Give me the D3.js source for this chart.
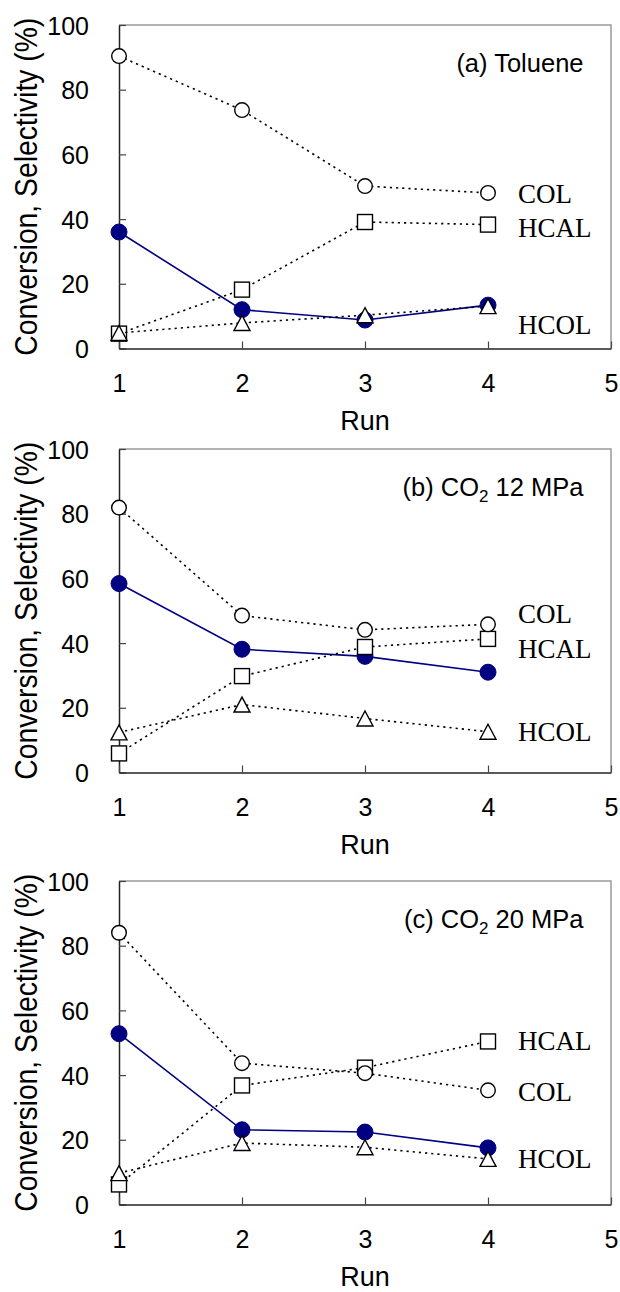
<!DOCTYPE html>
<html><head><meta charset="utf-8">
<script src="https://cdn.jsdelivr.net/npm/d3@7"></script>
<style>body{margin:0;background:#fff}</style>
</head><body>
<svg id="c" width="620" height="1292"></svg>
<script>
// ---- data ----
const runs = [1, 2, 3, 4];
const xTicks = [1, 2, 3, 4, 5];
const yTicks = [0, 20, 40, 60, 80, 100];
const xTitle = "Run";
const yTitle = "Conversion, Selectivity (%)";
const panelTitleMain = ["(a) Toluene", "(b) CO", "(c) CO"];
const panelTitleSub = ["", "2", "2"];
const panelTitleTail = ["", " 12 MPa", " 20 MPa"];

const convA = [36.0, 12.0, 8.8, 13.4];
const colA  = [90.4, 73.7, 50.2, 48.1];
const hcalA = [4.6, 18.2, 39.1, 38.3];
const hcolA = [4.8, 7.9, 10.3, 13.1];

const convB = [58.4, 38.1, 35.9, 31.0];
const colB  = [81.9, 48.5, 44.1, 45.8];
const hcalB = [5.9, 29.8, 38.8, 41.3];
const hcolB = [12.4, 21.0, 16.7, 12.6];

const convC = [52.8, 23.1, 22.4, 17.5];
const colC  = [84.0, 43.7, 40.6, 35.3];
const hcalC = [6.2, 36.8, 42.3, 50.4];
const hcolC = [9.7, 19.0, 17.7, 14.1];

const panelData = [
  {conv: convA, hcal: hcalA, col: colA, hcol: hcolA},
  {conv: convB, hcal: hcalB, col: colB, hcol: hcolB},
  {conv: convC, hcal: hcalC, col: colC, hcol: hcolC}
];

// ---- layout ----
const panelTops = [25, 449, 881];
const plotH = 323.5;
const xL = 119, xR = 611;
// series label anchor (in value units) per panel
const labelAt = [
  {COL: 45.1, HCAL: 34.6, HCOL: 4.6},
  {COL: 46.1, HCAL: 35.3, HCOL: 9.6},
  {COL: 31.9, HCAL: 47.7, HCOL: 11.3}
];

const svg = d3.select("#c");
svg.append("rect").attr("width", 620).attr("height", 1292).attr("fill", "#fff");
const sans = "Liberation Sans, Arial, sans-serif";
const serif = "Liberation Serif, Times New Roman, serif";
const navy = "#000080";

panelData.forEach((d, i) => {
  const top = panelTops[i];
  const bot = top + plotH;
  const x = d3.scaleLinear().domain([1, 5]).range([xL, xR]);
  const y = d3.scaleLinear().domain([0, 100]).range([bot, top]);
  const g = svg.append("g");

  // frame top/right (gray)
  g.append("path").attr("d", `M${xL},${top}H${xR}V${bot}`)
    .attr("fill", "none").attr("stroke", "#999").attr("stroke-width", 1.5);

  // axes
  const ya = d3.axisLeft(y).tickValues(yTicks).tickFormat(d3.format("d"))
    .tickSizeInner(-7).tickSizeOuter(0).tickPadding(30);
  const yg = g.append("g").attr("transform", `translate(${xL},0)`).call(ya);
  const xa = d3.axisBottom(x).tickValues(xTicks).tickFormat(d3.format("d"))
    .tickSizeInner(-7).tickSizeOuter(0).tickPadding(26);
  const xg = g.append("g").attr("transform", `translate(0,${bot})`).call(xa);
  [yg, xg].forEach(a => {
    a.select(".domain").attr("stroke", "#222").attr("stroke-width", 1.5);
    a.selectAll(".tick line").attr("stroke", "#444").attr("stroke-width", 1.2);
    a.selectAll(".tick text").attr("font-family", sans).attr("font-size", 25).attr("fill", "#000");
  });
  yg.selectAll(".tick text").attr("dy", "0.36em");

  // axis titles
  g.append("text").attr("transform", `translate(37,${(top + bot) / 2}) rotate(-90) scale(1,1.12)`)
    .attr("text-anchor", "middle").attr("font-family", sans).attr("font-size", 28.3)
    .text(yTitle);
  g.append("text").attr("x", (xL + xR) / 2).attr("y", bot + 81)
    .attr("text-anchor", "middle").attr("font-family", sans).attr("font-size", 27)
    .text(xTitle);

  // panel title
  const t = g.append("text").attr("x", 583.5).attr("y", top + 46.7)
    .attr("text-anchor", "end").attr("font-family", sans).attr("font-size", 25.5);
  t.append("tspan").text(panelTitleMain[i]);
  if (panelTitleSub[i]) {
    t.append("tspan").attr("font-size", 17).attr("dy", 6).text(panelTitleSub[i]);
    t.append("tspan").attr("dy", -6).text(panelTitleTail[i]);
  }

  const line = d3.line().x((v, k) => x(runs[k])).y(v => y(v));

  // Conversion (solid navy)
  g.append("path").attr("d", line(d.conv)).attr("fill", "none")
    .attr("stroke", navy).attr("stroke-width", 1.6);
  g.selectAll(null).data(d.conv).enter().append("circle")
    .attr("cx", (v, k) => x(runs[k])).attr("cy", v => y(v)).attr("r", 8)
    .attr("fill", navy).attr("stroke", navy).attr("stroke-width", 1);

  const dotted = arr => g.append("path").attr("d", line(arr)).attr("fill", "none")
    .attr("stroke", "#000").attr("stroke-width", 1.6).attr("stroke-dasharray", "2.2,4");

  // HCAL (squares)
  dotted(d.hcal);
  g.selectAll(null).data(d.hcal).enter().append("rect")
    .attr("x", (v, k) => x(runs[k]) - 7.5).attr("y", v => y(v) - 7.5)
    .attr("width", 15).attr("height", 15)
    .attr("fill", "#fff").attr("stroke", "#000").attr("stroke-width", 1.4);

  // COL (open circles)
  dotted(d.col);
  g.selectAll(null).data(d.col).enter().append("circle")
    .attr("cx", (v, k) => x(runs[k])).attr("cy", v => y(v)).attr("r", 7.3)
    .attr("fill", "#fff").attr("stroke", "#000").attr("stroke-width", 1.4);

  // HCOL (triangles)
  dotted(d.hcol);
  g.selectAll(null).data(d.hcol).enter().append("path")
    .attr("transform", (v, k) => `translate(${x(runs[k])},${y(v)})`)
    .attr("d", "M0,-7.5L8,7.5L-8,7.5Z")
    .attr("fill", "#fff").attr("stroke", "#000").attr("stroke-width", 1.4);

  // series labels
  Object.entries(labelAt[i]).forEach(([name, v]) => {
    g.append("text").attr("x", 518).attr("y", y(v))
      .attr("font-family", serif).attr("font-size", 27).attr("fill", "#000").text(name);
  });
});
</script>
</body></html>
